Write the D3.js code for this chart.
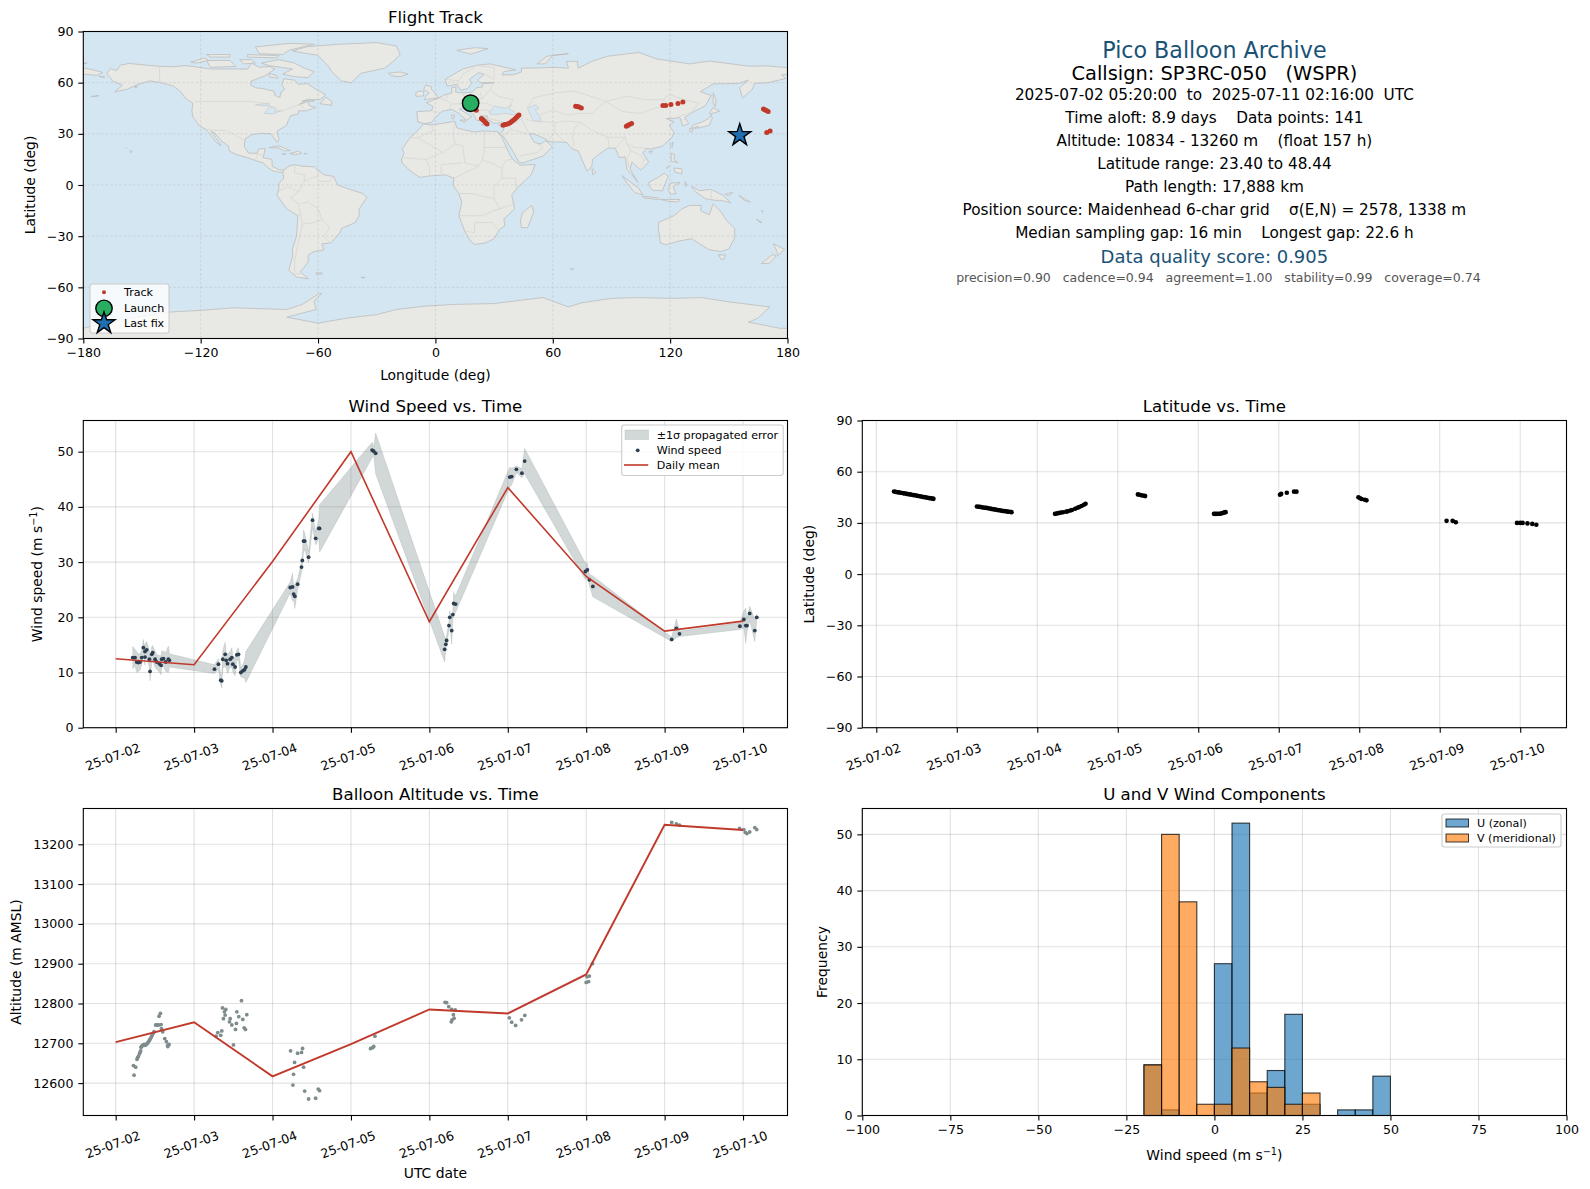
<!DOCTYPE html>
<html>
<head>
<meta charset="utf-8">
<script src="https://cdn.jsdelivr.net/npm/d3@7"></script>
<style>
  html, body { margin: 0; padding: 0; background: #fff; }
  svg { display: block; }
  text { font-family: "DejaVu Sans", sans-serif; fill: #000; }
</style>
</head>
<body>
<div id="chart"></div>
<script>
// ---- tick labels and info text
const lonTicks = [-180, -120, -60, 0, 60, 120, 180];
const latTicks = [-90, -60, -30, 0, 30, 60, 90];
const dayTicks = [0, 1, 2, 3, 4, 5, 6, 7, 8];
const windTicks = [0, 10, 20, 30, 40, 50];
const altTicks = [12600, 12700, 12800, 12900, 13000, 13100, 13200];
const histXTicks = [-100, -75, -50, -25, 0, 25, 50, 75, 100];
const histYTicks = [0, 10, 20, 30, 40, 50];

const infoLines = [
  'Pico Balloon Archive',
  'Callsign: SP3RC-050   (WSPR)',
  '2025-07-02 05:20:00  to  2025-07-11 02:16:00  UTC',
  'Time aloft: 8.9 days    Data points: 141',
  'Altitude: 10834 - 13260 m    (float 157 h)',
  'Latitude range: 23.40 to 48.44',
  'Path length: 17,888 km',
  'Position source: Maidenhead 6-char grid    σ(E,N) = 2578, 1338 m',
  'Median sampling gap: 16 min    Longest gap: 22.6 h',
  'Data quality score: 0.905',
  'precision=0.90   cadence=0.94   agreement=1.00   stability=0.99   coverage=0.74'
];

// ---- flight data. days are counted from 2025-07-02 00:00 UTC
const launchPos = [18, 48];
const lastFixPos = [155.6, 29.2];
const trackPos = [
  [19.5,46],[20.2,45],[20.9,43.9],[23.5,39],[24,38.5],[24.6,38],[25.2,37.2],[25.8,36.5],[26.4,35.7],
  [34.6,35.1],[35.5,35.4],[36.4,35.6],[37.4,36],[38.2,36.5],[39,37.2],[39.8,37.9],[40.6,38.7],[41.4,39.6],[42,40.3],[42.7,41],
  [71.7,46.2],[72.6,46],[73.4,45.8],[74.6,45.1],
  [97.6,34.5],[98.3,34.9],[99.2,35.4],[100.3,36.1],
  [116.3,46.6],[117.7,46.6],[120.4,47.2],[124,47.8],[126.5,48.6],
  [167.7,44.5],[168.4,44.1],[169.2,43.7],[170.1,43.1],
  [169.4,30.8],[171.1,31.6]
];

// [day, speed, sigma]
const windPoints = [
  [.217,12.7,2],[.247,12.7,1.5],[.268,11.9,1.9],[.289,11.8,1.6],[.311,11.9,1.5],[.332,12.7,1.3],[.353,14.5,1.5],
  [.374,12.8,1.5],[.374,13.8,1.3],[.396,14.1,1.5],[.43,12.4,1.5],[.438,10.2,1.7],[.46,13.3,1.4],[.472,13.6,1.3],
  [.502,12.4,1.5],[.523,11.9,1.3],[.557,11.6,1.5],[.579,11.3,1.7],[.587,12.4,1.5],[.609,12.5,1.4],[.638,11.9,1.7],
  [.672,12.4,2.4],[.685,12.2,1.2],
  [1.26,10.6,.8],[1.31,11.5,1],[1.34,8.6,.9],[1.353,8.5,1.3],[1.366,12.4,1.6],[1.396,13.3,2.2],[1.409,12.2,1.4],
  [1.426,11.6,1.8],[1.46,12.4,1.4],[1.481,12.7,1.8],[1.494,11.5,1.4],[1.523,11,1.6],[1.545,13.2,.9],[1.566,13.3,1.2],
  [1.596,10,.8],[1.621,10.3,1.2],[1.643,10.5,1.6],[1.66,11,2.8],
  [2.226,25.4,1],[2.255,25.5,2.5],[2.27,24.2,1.2],[2.285,23.8,2.2],[2.32,26,1],[2.37,29.1,1],[2.38,30.3,1],
  [2.395,33.8,2],[2.41,33.8,1.5],[2.46,30.9,1],[2.51,37.6,1.3],[2.55,34.3,1.2],[2.59,36.1,1.8],[2.60,36.1,4.3],
  [3.27,50.3,1.4],[3.29,50.1,.8],[3.315,49.7,3.7],
  [4.195,14.2,2.3],[4.21,15.1,1],[4.22,15.8,.8],[4.25,18.5,.8],[4.26,20,1.2],[4.285,17.6,2.5],[4.30,20.5,.8],
  [4.31,22.5,2],[4.335,22.4,1.5],
  [5.025,45.4,1.8],[5.05,45.5,1.5],[5.11,46.8,.6],[5.18,46.1,.8],[5.215,48.3,2.3],
  [5.99,28.3,1.5],[6.015,28.6,1.2],[6.04,26.8,1],[6.085,25.6,1.9],
  [7.09,16,.4],[7.15,18,1.7],[7.19,17,.5],
  [7.96,18.4,.6],[8.01,19.6,1.5],[8.035,18.5,3.2],[8.05,18.5,1.2],[8.085,20.7,1.3],[8.15,17.6,2],[8.175,20,.5]
];
const windMeanDays = [0, 1, 2, 3, 4, 5, 6, 7, 8];
const windMean = [12.5, 11.4, 30.1, 50, 19.2, 43.5, 27.4, 17.5, 19.3];

const latPoints = [
  [.22,48.4],[.24,48.2],[.26,48],[.28,47.9],[.3,47.7],[.32,47.5],[.34,47.3],[.36,47.2],[.38,47],[.4,46.8],[.42,46.7],
  [.44,46.5],[.46,46.3],[.48,46.2],[.5,46],[.52,45.8],[.54,45.6],[.56,45.4],[.58,45.2],[.6,45.1],[.62,44.9],[.64,44.7],
  [.66,44.5],[.68,44.4],[.7,44.2],[.71,44.1],
  [1.25,39.6],[1.27,39.5],[1.29,39.4],[1.31,39.2],[1.33,39],[1.35,38.9],[1.37,38.8],[1.39,38.6],[1.41,38.4],[1.43,38.2],
  [1.45,38],[1.47,37.9],[1.49,37.7],[1.51,37.5],[1.53,37.4],[1.55,37.2],[1.57,37],[1.59,36.9],[1.61,36.8],[1.63,36.6],
  [1.65,36.5],[1.67,36.4],[1.68,36.3],
  [2.22,35.3],[2.24,35.5],[2.26,35.7],[2.29,36],[2.32,36.2],[2.36,36.6],[2.38,36.8],[2.41,37.3],[2.43,37.6],[2.47,38.3],
  [2.5,38.9],[2.52,39.3],[2.55,39.9],[2.58,40.6],[2.6,41.2],
  [3.25,46.7],[3.27,46.5],[3.3,46.1],[3.33,45.9],[3.34,45.7],
  [4.195,35.3],[4.21,35.3],[4.23,35.3],[4.25,35.4],[4.27,35.4],[4.29,35.6],[4.31,35.9],[4.33,36.2],[4.34,36.3],
  [5.015,46.5],[5.03,47],[5.1,47.7],[5.19,48.3],[5.22,48.3],
  [5.99,45],[6.01,44.4],[6.03,44],[6.07,43.6],[6.09,43.2],
  [7.085,31.2],[7.16,31.2],[7.2,30.4],
  [7.96,30],[8,30],[8.03,30],[8.09,29.7],[8.15,29.4],[8.2,28.9]
];

const altPoints = [
  [.234,12620],[.226,12644],[.255,12640],[.272,12660],[.28,12664],[.289,12667],[.302,12673],[.31,12677],[.319,12681],
  [.323,12690],[.33,12692],[.34,12694],[.35,12696],[.362,12697],[.372,12695],[.383,12696],[.394,12698],[.404,12700],
  [.415,12703],[.426,12706],[.435,12709],[.443,12712],[.455,12716],[.464,12720],[.478,12725],[.489,12729],[.51,12746],
  [.53,12746],[.545,12746],[.579,12747],[.553,12768],[.57,12775],[.583,12737],[.6,12729],[.626,12712],[.647,12704],
  [.664,12695],[.681,12697],[.664,12692],
  [1.28,12718],[1.302,12727],[1.34,12720],[1.353,12731],[1.362,12789],[1.387,12779],[1.404,12785],[1.374,12762],
  [1.396,12771],[1.46,12762],[1.451,12754],[1.481,12746],[1.502,12696],[1.528,12735],[1.54,12750],[1.545,12779],
  [1.57,12767],[1.604,12807],[1.621,12760],[1.638,12739],[1.655,12735],[1.672,12772],
  [2.23,12681],[2.281,12652],[2.268,12622],[2.26,12595],[2.32,12675],[2.37,12677],[2.383,12687],[2.396,12640],
  [2.41,12580],[2.46,12560],[2.55,12562],[2.583,12585],[2.6,12581],
  [3.306,12718],[3.25,12687],[3.277,12689],[3.29,12692],
  [4.2,12803],[4.22,12802],[4.247,12792],[4.285,12785],[4.33,12784],[4.306,12772],[4.315,12763],[4.29,12759],[4.28,12754],
  [5.02,12764],[5.05,12753],[5.1,12745],[5.175,12759],[5.217,12770],
  [6.08,12900],[6.01,12867],[6.04,12869],[6,12853],[6.03,12855],
  [7.09,13255],[7.15,13251],[7.19,13248],
  [7.957,13240],[8.01,13237],[8.03,13230],[8.05,13227],[8.085,13231],[8.15,13242],[8.175,13237]
];
const altMean = [12703, 12753, 12617, 12698, 12785, 12775, 12873, 13249, 13236];

// histogram: 5 m/s bins starting at binStart
const binStart = [-20,-15,-10,-5,0,5,10,15,20,25,30,35,40,45];
const uCounts = [9,1,0,0,27,52,4,8,18,2,0,1,1,7];
const vCounts = [9,50,38,2,2,12,6,5,2,4,0,0,0,0];

// ---- map outlines, lon/lat estimated by eye
const landPolys = [
  // north america
  [[-168,65.5],[-166,68.3],[-163,67],[-161,70.3],[-156.5,71.3],[-150,70.5],[-141,69.6],[-135,69.3],[-128,70],[-124,69.5],[-115,68],[-108,68],[-100,68],[-96,68],[-94,71.5],[-90,69],[-85,69.5],[-82,68],[-87,64],[-94,61],[-94.5,58.7],[-92,57],[-88,56.5],[-82.5,55],[-82,52.5],[-79.5,51.3],[-79,54.5],[-77,56],[-78.5,58.5],[-77.5,62.3],[-72,61.5],[-70,59],[-65.5,59.5],[-61,56],[-56,53],[-59,50],[-66,50],[-70,47],[-65,49],[-64.5,46.5],[-61,45.5],[-66,43.5],[-70,43.5],[-70,41.7],[-74,40.6],[-75.5,37],[-76,35],[-81,31.5],[-80,26.5],[-81,25],[-82.8,28],[-84,30],[-89,30.3],[-94,29.5],[-97.3,27],[-97.7,22.5],[-95.5,18.7],[-91,18.6],[-90.5,21],[-87,21.5],[-88,16],[-83.5,15],[-83.5,11],[-80,9],[-77.5,8.7],[-78,7.3],[-80,7.5],[-83,8.2],[-86,10.5],[-88,13],[-92,14.3],[-96,16],[-102,18],[-105.5,20],[-105.5,22.5],[-109.5,26],[-112.8,30.5],[-114.7,31.5],[-112,27],[-109.5,23],[-112,25],[-115,29.5],[-117.2,32.5],[-120.5,34.5],[-124,40],[-124.5,43.5],[-124,48],[-128,51],[-130,54.5],[-134,58],[-140,60],[-146,61],[-152,59],[-158,56],[-164,54.6],[-160,58.5],[-165,61]],
  // greenland
  [[-73,78.5],[-66,81],[-50,82.5],[-30,83.5],[-20,81.5],[-18,76.5],[-22,72],[-26,68.5],[-38,65.5],[-43,60],[-48,61],[-53,66.5],[-55,70],[-60,76]],
  // canadian islands
  [[-80,73.5],[-72,71.5],[-68,69],[-62,66.5],[-65,63],[-72,63.5],[-78,65],[-73,68],[-85,70],[-89,71.5]],
  [[-117,73],[-105,73],[-102,69.5],[-115,69]],
  [[-90,77],[-78,76.5],[-75,79],[-62,82.5],[-75,83],[-92,81]],
  [[-125,72],[-118,74.5],[-116,73],[-122,71.5]],
  [[-96,75],[-81,74.5],[-80,75.8],[-96,76.5]],
  [[-115,75],[-105,75],[-105,76.5],[-117,76.5]],
  [[-100,73.5],[-94,73.5],[-92,71.5],[-98,71]],
  [[-59,47.7],[-53,46.7],[-53,49],[-56,51.5]],
  [[-85,65.5],[-81,64],[-80.5,62.5],[-85,63.5]],
  [[-68,49.3],[-64,49.9],[-62,49.3],[-64,49]],
  // caribbean, hawaii, alaska islands
  [[-85,21.9],[-80,23],[-74.2,20.2],[-77.5,19.9],[-80,21.7]],
  [[-74.4,18.4],[-70,19.8],[-68.4,18.5],[-71.5,17.8]],
  [[-78.3,18.4],[-76.3,18.2],[-77,17.8]],
  [[-67.2,18.5],[-65.7,18.4],[-66,18]],
  [[-156,19],[-155,19.7],[-156,20.2]],
  [[-158.2,21.6],[-157.7,21.6],[-158,21.3]],
  [[-176,51.9],[-172,52.4],[-174,52]],
  [[-154,57.5],[-152.3,58],[-153,57]],
  [[-172,63.7],[-169,63.4],[-170,63.1]],
  // south america
  [[-77.5,8.7],[-75,11],[-72,12],[-68,11],[-62,10.7],[-57,6],[-52,5],[-50,0],[-44,-2.5],[-37,-5],[-35,-7.5],[-39,-14],[-39,-18],[-41,-22],[-48,-25.5],[-48.7,-28],[-53.5,-34],[-58,-34.5],[-57,-38],[-62,-39],[-65,-41],[-65,-45],[-69,-51],[-65,-55],[-71,-54],[-75,-50],[-73,-42],[-73,-37],[-71,-30],[-70.3,-18],[-76,-14],[-81,-6],[-80,-2],[-80,1],[-77.5,4],[-78,7.3]],
  [[-61,-51.5],[-58,-51.5],[-58,-52.3],[-61,-52.3]],
  // africa
  [[-6,35.8],[-2,35.2],[10,37.3],[11,33.5],[15,32.3],[20,31],[25,31.7],[32,31.2],[34,28],[35.5,24],[37.5,19],[39.5,15],[43.2,11.6],[51,12],[49,6],[42,-1.5],[39,-6],[40.5,-14],[35,-20],[35.5,-24],[32.8,-26],[30,-31.5],[25.5,-34],[20,-34.8],[18,-33],[15,-27],[12,-18],[13.5,-10],[12,-5],[9,0],[9.5,4],[5,6],[-4,5.2],[-8,4.4],[-13,8.5],[-16.8,12.5],[-17.4,14.7],[-16,19],[-17,21],[-13,27.7],[-9.8,31]],
  [[49.3,-12],[50.3,-15.8],[47.2,-25],[44,-25],[43.5,-21],[44.5,-16.2]],
  // eurasia
  [[-5.5,36],[-9,37],[-9.5,43],[-2,43.5],[-1.2,46],[-4.7,48.3],[1.5,50.8],[5,53],[8.5,54],[8.2,57],[10.6,57.6],[10.3,54.5],[14,54],[19,54.5],[21,57],[24,57.5],[24,59.3],[30,60],[23,60],[21.5,61.5],[25,65],[22,65.8],[17.5,62],[18.5,59.5],[16.5,56.5],[13,55.5],[11,59],[6,58],[5,62],[14,68],[21,70.2],[28,71],[41,67.5],[35,66.5],[34,64.5],[40,64.7],[44,66.3],[44,68.5],[54,68.7],[60,69],[68,68.5],[67,72.5],[72.5,72.5],[73,68.5],[80,72.5],[88,75.5],[104,77.7],[113,74],[130,71],[140,72.7],[160,69.7],[170,69.8],[180,68.8],[180,65],[177,64.5],[179,62.4],[170,60],[163,59.5],[162,56],[157,51],[155.5,57],[160,61.5],[155,59.5],[142,59.3],[135.5,54.7],[141,52.5],[138,46.5],[132,43],[127.5,39.8],[129.5,36],[126.5,34.5],[125,39.5],[121.5,39],[118,39],[122,37],[119.5,35],[122,31],[121,28],[116,22.7],[110,21],[108,21.5],[106,19],[109,13.5],[105,8.7],[100.5,13.5],[99.5,9.5],[103.5,1.5],[100.5,6],[98,9],[97,16.5],[94,16],[92,21.5],[88.5,21.7],[86,20],[80.3,15],[80,11],[77.5,8],[73,20],[70,21],[67,25],[57,25.5],[56.5,27],[50,30],[48,30],[50.5,25],[54,24],[56.3,26],[59.8,22.5],[55,17],[45,13],[43,13],[39,21],[34.8,28.5],[32.5,30],[34.5,31.5],[36,36.5],[30,36.2],[26.5,38.5],[26.5,40.5],[23,40.5],[23.5,37.7],[21,38],[19.5,41.5],[14,45],[12.3,44.5],[18.5,40],[16,38],[12,42],[8.5,44.3],[3.5,43.3],[0,39.5],[-2,36.7]],
  // eastern tip of siberia past the dateline
  [[-180,68.8],[-175,67.5],[-170,66],[-173,64.3],[-180,65]],
  [[-180,71],[-178,71.5],[-180,71.5]],
  // european and asian islands
  [[-5.5,50],[1.5,51.2],[0,53.5],[-2,56],[-2,57.6],[-5,58.6],[-6,56],[-3,54],[-5,52]],
  [[-10,52],[-6,52.2],[-6,55],[-8.5,55],[-10,54]],
  [[-24,65.5],[-18,66.3],[-14,65],[-18,63.5],[-22.5,64]],
  [[11,79],[20,80.5],[27,80],[18,76.7]],
  [[52,71],[56,71],[60,76],[68,77],[57,75.5]],
  [[12.5,38],[15.5,38.2],[15,36.7]],
  [[8.3,41],[9.7,41],[9.5,39],[8.5,39]],
  [[23.5,35.5],[26.3,35.3],[24,35]],
  [[32.3,35],[34.5,35.6],[33.5,34.6]],
  [[142,54],[143.5,50],[143,46],[142,48]],
  [[130.8,33.5],[135,33.5],[140,35],[141.5,39],[141,41.3],[139.8,39],[136.5,37],[132,35.3]],
  [[140,42],[142,45.4],[145.3,43.3],[141,41.8]],
  [[130,33],[131.8,33],[131,31],[130,31.5]],
  [[132.5,34],[134.5,34.2],[133,33]],
  [[120,23],[121.5,25.2],[121,22]],
  [[109,19.5],[111,20],[110,18.3]],
  [[80,9.7],[82,7.5],[80.5,6]],
  [[120.5,18.5],[122.2,18],[122,15],[124,13],[120.6,14]],
  [[122,10],[126,9.5],[126,6.5],[122.5,7.5]],
  [[118,10],[119.5,11.3],[118.5,9.5]],
  [[95.3,5.5],[104,-2],[106,-5.8],[102,-4.5],[98,1]],
  [[105.5,-6.5],[114.5,-7.7],[114,-8.6],[106.5,-7.5]],
  [[109,1.5],[114,4.5],[117,7],[119,5],[117.5,1],[116,-3.5],[111,-3],[109.5,-1]],
  [[120,1],[125,1.5],[121.5,-1],[123,-5],[120.5,-5.5],[119,-3]],
  [[115,-8.5],[120,-8.5],[125,-8.5],[124,-10],[119,-9.5]],
  [[127.5,2],[128.5,0.5],[128,-1]],
  [[131,-0.8],[135,-3.3],[141,-2.6],[147,-6],[151,-10.5],[146,-9],[143,-9],[138,-8],[133,-4]],
  [[148,-5.5],[152,-4.3],[150,-6.3]],
  [[155,-6],[161,-10],[158,-9]],
  [[166.5,-15],[167.5,-16],[167,-15]],
  [[164,-20],[167,-22],[166,-22]],
  // australia and nz
  [[114,-22],[122,-18],[126,-14],[130,-12],[136,-12],[135.5,-15],[140,-17.5],[142,-11],[145.5,-15],[149,-21],[153,-25.5],[153,-31],[150,-37.5],[146,-39],[140,-38],[135,-34.5],[131,-31.5],[124,-33],[118,-35],[115,-34],[114,-26]],
  [[144.7,-41],[148.3,-41],[147.5,-43.5],[146,-43.5]],
  [[172.7,-34.5],[178.5,-37.7],[175,-41.5],[174.5,-38.5]],
  [[172.5,-40.7],[174.3,-41.7],[170.5,-46],[166.5,-46],[170,-43]],
  // small southern ocean islands
  [[69,-49],[70.5,-49.2],[69.5,-49.8]],
  [[-38,-54],[-36,-54.2],[-37,-54.6]],
  // antarctica
  [[-180,-90],[-180,-84],[-165,-80],[-150,-77],[-136,-74.5],[-120,-73.5],[-103,-72],[-90,-72.5],[-76,-73],[-68,-70],[-60,-64],[-58,-63.5],[-62,-68],[-61,-73],[-76,-77.5],[-60,-81],[-45,-78],[-30,-76],[-20,-73],[-5,-71],[10,-70],[30,-69.5],[55,-66],[68,-71.5],[75,-69],[90,-66.5],[103,-66],[120,-66.5],[136,-66],[150,-68.5],[171,-71.5],[165,-78],[160,-80.4],[176,-84],[180,-84],[180,-90]]
];
const lakePolys = [
  [[28,41.5],[28,43.5],[30.5,46.3],[33,45.5],[36,45],[39,47],[37.5,45],[41.5,42],[41,41],[35,42],[31,41.2]],
  [[47,45],[51,47],[53,45],[51,44],[53.5,40],[54,37],[50,37.5],[49,40.5]],
  [[-92,47],[-85,48],[-84.7,46.5],[-88,46.5]],
  [[-87.5,42],[-85,45.7],[-82,45.5],[-82,43],[-79,43.5],[-83,41.7]]
];
const borderLines = [
  [[-123,49],[-95,49],[-88,48],[-82,45],[-79,43],[-75,45],[-69,47.2],[-67,45]],
  [[-141,69.6],[-141,60],[-134,58]],
  [[-117,32.5],[-106.5,31.8],[-97.5,26]],
  [[-92,14.5],[-91,18],[-89,18],[-88.5,16]],
  [[-72,12],[-72,7],[-67,6],[-67,2],[-70,-4],[-74,-7.5],[-70,-11],[-69,-17],[-70.3,-18]],
  [[-60,8.5],[-60,5],[-64,4],[-67,2]],
  [[-52,5],[-54,2.3],[-60,2]],
  [[-80,-3.3],[-75,-1],[-70,-4]],
  [[-69,-11],[-65,-10],[-60,-14],[-58,-20],[-54,-25],[-57,-30],[-53.5,-34]],
  [[-69,-17],[-68,-23],[-62,-22],[-58,-20]],
  [[-68,-23],[-70,-33],[-72,-45],[-72,-52],[-69,-52]],
  [[-2,35],[-1,32],[-9,27.7],[-13,27.7]],
  [[10,37],[9,30],[10,24],[4,19],[-5,25],[-9,27.7]],
  [[25,31.7],[25,20],[24,15],[22,11],[15,13],[14,23],[10,24]],
  [[25,22],[37,22]],
  [[24,15],[34,10],[36,14.5],[39.5,15]],
  [[34,10],[34,4],[41,4],[41,-1.5]],
  [[-16.5,16],[-5,15],[4,19]],
  [[-5,15],[-3,10],[-3,5]],
  [[3,6],[3,12],[14,13]],
  [[9.5,4],[15,7],[22,11]],
  [[12,-5],[18,-5],[30,-8],[30,-1],[34,4]],
  [[12,-18],[24,-18],[30,-15],[40.5,-11]],
  [[15,-27],[20,-28],[20,-22],[29,-22],[32,-26]],
  [[30,-8],[33,-14],[30,-15]],
  [[-1.5,43],[3,42.5]],[[2,51],[6,49.5],[8,47.5],[7,44]],[[6,51],[6.5,53.5]],
  [[14,54],[15,51],[12,47.5],[8,47.5]],[[15,51],[24,50.5],[23,54]],
  [[12,47.5],[17,48],[22,48],[26,48],[30,46]],[[14,45.5],[19,46],[22,44],[23,41]],
  [[28,41.5],[27,44],[22,44]],
  [[30,60],[28,56],[24,50.5]],[[28,56],[32,52],[40,50],[38,47]],
  [[26,39.5],[36,36.5],[42,37],[44.5,39.5],[41.5,42]],[[36,36.5],[39,32.5],[47,30]],
  [[35,29.5],[39,32.5]],[[44,39],[46,34],[48,30]],[[46,38.5],[48,38],[61,36.5],[61,31],[57,25.5]],
  [[61,31],[66,25.5]],[[61,36.5],[66,37.5],[74,37],[71,33],[70,28],[71,24],[70,21]],
  [[43,17],[52,19],[55,22],[51,25]],
  [[47,45],[50,51],[61,54],[71,55],[77,53],[87,49]],[[53.5,41],[60,44],[67,41],[74,42],[80,42],[87,49]],
  [[87,49],[98,52],[107,50],[116,50],[120,53],[127,50],[135,48],[131,43]],
  [[87,49],[96,43],[105,42],[112,45],[120,47],[116,50]],
  [[74,37],[80,32],[88,28],[97,28],[98,24],[102,22],[108,21.5]],
  [[88,28],[89,22]],[[97,28],[94,24],[92,21.5]],[[98,24],[100,20],[104,18],[107,15],[105,11]],
  [[100,20],[98,16],[99,10]],
  [[124,40],[130,42.5]],[[124.5,38],[128.5,38.5]],
  [[141,-2.6],[141,-9]],[[5.5,62],[12,61],[14,65],[20,69]],[[25,65],[30,62],[30,69],[21,70]]
];

// ---- layout
const width = 1590, height = 1189;
const leftCol = [83.3, 787.5], rightCol = [862.3, 1566.5];
const row1 = [31.5, 338.5], row2 = [420.5, 727.7], row3 = [808.5, 1115.5];
const tickSize = 12.6, labelSize = 13.9, titleSize = 16.6, legendSize = 11.1;
const red = '#c0392b', navy = '#2c3e50', slate = '#7f8c8d', titleBlue = '#1a5276';

const svg = d3.select('#chart').append('svg').attr('width', width).attr('height', height);
const dayToDate = d => new Date(Date.UTC(2025, 6, 2) + d * 864e5);

function gridLines(g, xs, ys, x, y, dashed) {
  const gr = g.append('g').attr('stroke', '#b0b0b0').attr('stroke-width', dashed ? .8 : 1.1)
    .attr('stroke-opacity', dashed ? .45 : .38).attr('stroke-dasharray', dashed ? '2.5,2' : null);
  gr.selectAll('.v').data(xs).enter().append('line')
    .attr('x1', x).attr('x2', x).attr('y1', y.range()[0]).attr('y2', y.range()[1]);
  gr.selectAll('.h').data(ys).enter().append('line')
    .attr('x1', x.range()[0]).attr('x2', x.range()[1]).attr('y1', y).attr('y2', y);
}

function axesFrame(x, y, xAxis, yAxis, rotated) {
  const g = svg.append('g');
  const gx = g.append('g').attr('transform', `translate(0,${y.range()[0]})`)
    .call(xAxis.tickSize(5).tickSizeOuter(0).tickPadding(4.9));
  g.append('g').attr('transform', `translate(${x.range()[0]},0)`)
    .call(yAxis.tickSize(5).tickSizeOuter(0).tickPadding(4.9));
  g.selectAll('.domain').remove();
  g.selectAll('.tick line').attr('stroke', '#000').attr('stroke-width', 1.1);
  g.selectAll('.tick text').attr('font-size', tickSize).attr('font-family', '"DejaVu Sans"').attr('fill', '#000');
  if (rotated) {
    gx.selectAll('.tick text').attr('text-anchor', 'middle').attr('dy', 0).attr('y', 0)
      .attr('transform', 'translate(-3,30) rotate(-20)').attr('dominant-baseline', 'middle');
  }
  g.append('rect').attr('x', x.range()[0]).attr('y', y.range()[1])
    .attr('width', x.range()[1] - x.range()[0]).attr('height', y.range()[0] - y.range()[1])
    .attr('fill', 'none').attr('stroke', '#000').attr('stroke-width', 1.1);
}

// label is a plain string, or [before, superscript, after]
function fillLabel(el, label) {
  if (Array.isArray(label)) {
    el.append('tspan').text(label[0]);
    el.append('tspan').attr('font-size', labelSize * .7).attr('dy', -5).text(label[1]);
    el.append('tspan').attr('font-size', labelSize).attr('dy', 5).text(label[2]);
  } else el.text(label);
}

function titleAndLabels(x, y, title, xLabel, yLabel, xLabelY, yLabelX) {
  const cx = (x.range()[0] + x.range()[1]) / 2, cy = (y.range()[0] + y.range()[1]) / 2;
  svg.append('text').attr('x', cx).attr('y', y.range()[1] - 8.5).attr('text-anchor', 'middle')
    .attr('font-size', titleSize).text(title);
  if (xLabel) fillLabel(svg.append('text').attr('x', cx).attr('y', xLabelY).attr('text-anchor', 'middle')
    .attr('font-size', labelSize), xLabel);
  fillLabel(svg.append('text').attr('transform', `translate(${yLabelX},${cy}) rotate(-90)`)
    .attr('text-anchor', 'middle').attr('font-size', labelSize), yLabel);
}

function legendBox(x, y, w, h) {
  svg.append('rect').attr('x', x).attr('y', y).attr('width', w).attr('height', h).attr('rx', 2.5)
    .attr('fill', '#fff').attr('fill-opacity', .8).attr('stroke', '#ccc').attr('stroke-width', 1.1);
}
function legendText(x, y, label) {
  svg.append('text').attr('x', x).attr('y', y).attr('font-size', legendSize)
    .attr('dominant-baseline', 'middle').text(label);
}
const wspeed = ['Wind speed (m s', '−1', ')'];

// ---- map
{
  const x = d3.scaleLinear().domain([-180, 180]).range(leftCol);
  const y = d3.scaleLinear().domain([-90, 90]).range([row1[1], row1[0]]);
  const clipId = 'mapclip';
  svg.append('clipPath').attr('id', clipId).append('rect')
    .attr('x', leftCol[0]).attr('y', row1[0]).attr('width', leftCol[1] - leftCol[0]).attr('height', row1[1] - row1[0]);
  const g = svg.append('g').attr('clip-path', `url(#${clipId})`);
  g.append('rect').attr('x', leftCol[0]).attr('y', row1[0]).attr('width', leftCol[1] - leftCol[0])
    .attr('height', row1[1] - row1[0]).attr('fill', '#d4e6f1');
  const line = d3.line().x(d => x(d[0])).y(d => y(d[1]));
  g.selectAll('.land').data(landPolys).enter().append('path')
    .attr('d', d => line(d) + 'Z').attr('fill', '#e8e8e4').attr('stroke', '#bdbdbd').attr('stroke-width', .8);
  g.selectAll('.lake').data(lakePolys).enter().append('path')
    .attr('d', d => line(d) + 'Z').attr('fill', '#d4e6f1').attr('stroke', '#c4c8ca').attr('stroke-width', .6);
  g.selectAll('.border').data(borderLines).enter().append('path')
    .attr('d', line).attr('fill', 'none').attr('stroke', '#d4d4d0').attr('stroke-width', .7);
  gridLines(g, lonTicks, latTicks, x, y, true);
  g.selectAll('.track').data(trackPos).enter().append('circle')
    .attr('cx', d => x(d[0])).attr('cy', d => y(d[1])).attr('r', 2.5).attr('fill', red);
  g.append('circle').attr('cx', x(launchPos[0])).attr('cy', y(launchPos[1])).attr('r', 8.2)
    .attr('fill', '#27ae60').attr('stroke', '#000').attr('stroke-width', 1.4);
  const star = d3.symbol().type(d3.symbolStar).size(150);
  g.append('path').attr('d', star()).attr('transform', `translate(${x(lastFixPos[0])},${y(lastFixPos[1])})`)
    .attr('fill', '#1f6fb0').attr('stroke', '#000').attr('stroke-width', 1.4);

  axesFrame(x, y, d3.axisBottom(x).tickValues(lonTicks), d3.axisLeft(y).tickValues(latTicks));
  titleAndLabels(x, y, 'Flight Track', 'Longitude (deg)', 'Latitude (deg)', 380, 35);

  legendBox(90, 284, 79, 49);
  svg.append('circle').attr('cx', 104).attr('cy', 292.3).attr('r', 2).attr('fill', red);
  svg.append('circle').attr('cx', 104).attr('cy', 308.3).attr('r', 8.2)
    .attr('fill', '#27ae60').attr('stroke', '#000').attr('stroke-width', 1.4);
  svg.append('path').attr('d', star()).attr('transform', 'translate(104,323.3)')
    .attr('fill', '#1f6fb0').attr('stroke', '#000').attr('stroke-width', 1.4);
  legendText(124, 292.5, 'Track');
  legendText(124, 308.5, 'Launch');
  legendText(124, 323.5, 'Last fix');
}

// ---- info text
{
  const cx = (rightCol[0] + rightCol[1]) / 2;
  const ys = [51, 74, 95, 118, 141, 164, 187, 210, 233, 258, 278];
  const sizes = [22.2, 19.4, 15.28, 15.28, 15.28, 15.28, 15.28, 15.28, 15.28, 18, 12.5];
  const fills = [titleBlue, '#000', '#000', '#000', '#000', '#000', '#000', '#000', '#000', titleBlue, '#555'];
  svg.selectAll('.info').data(infoLines).enter().append('text')
    .attr('x', (d, i) => i === 10 ? cx + 4 : cx).attr('y', (d, i) => ys[i]).attr('text-anchor', 'middle')
    .attr('dominant-baseline', 'middle').attr('font-size', (d, i) => sizes[i])
    .attr('xml:space', 'preserve').style('white-space', 'pre')
    .style('fill', (d, i) => fills[i]).text(d => d);
}

// ---- wind speed
{
  const x = d3.scaleUtc().domain([dayToDate(-.413), dayToDate(8.567)]).range(leftCol);
  const y = d3.scaleLinear().domain([0, 55.65]).range([row2[1], row2[0]]);
  const g = svg.append('g');
  gridLines(g, dayTicks.map(dayToDate), windTicks, x, y);
  const area = d3.area().x(d => x(dayToDate(d[0]))).y0(d => y(d[1] - d[2])).y1(d => y(d[1] + d[2]));
  g.append('path').attr('d', area(windPoints)).attr('fill', slate).attr('fill-opacity', .35)
    .attr('stroke', slate).attr('stroke-opacity', .2);
  g.selectAll('.pt').data(windPoints).enter().append('circle')
    .attr('cx', d => x(dayToDate(d[0]))).attr('cy', d => y(d[1])).attr('r', 1.9).attr('fill', navy);
  const line = d3.line().x((d, i) => x(dayToDate(windMeanDays[i]))).y(d => y(d));
  g.append('path').attr('d', line(windMean)).attr('fill', 'none').attr('stroke', red).attr('stroke-width', 1.6);
  axesFrame(x, y, d3.axisBottom(x).tickValues(dayTicks.map(dayToDate)).tickFormat(d3.utcFormat('%y-%m-%d')),
    d3.axisLeft(y).tickValues(windTicks), true);
  titleAndLabels(x, y, 'Wind Speed vs. Time', null, wspeed, 0, 42);

  legendBox(621.7, 425, 161.5, 50.5);
  svg.append('rect').attr('x', 625).attr('y', 430).attr('width', 23.5).attr('height', 9.5)
    .attr('fill', slate).attr('fill-opacity', .35).attr('stroke', slate).attr('stroke-opacity', .2);
  svg.append('circle').attr('cx', 637.7).attr('cy', 450.3).attr('r', 1.9).attr('fill', navy);
  svg.append('line').attr('x1', 624).attr('x2', 648.3).attr('y1', 465).attr('y2', 465)
    .attr('stroke', red).attr('stroke-width', 1.6);
  legendText(656.7, 435.5, '±1σ propagated error');
  legendText(656.7, 450.5, 'Wind speed');
  legendText(656.7, 466, 'Daily mean');
}

// ---- latitude
{
  const x = d3.scaleUtc().domain([dayToDate(-.174), dayToDate(8.575)]).range(rightCol);
  const y = d3.scaleLinear().domain([-90, 90]).range([row2[1], row2[0]]);
  const g = svg.append('g');
  gridLines(g, dayTicks.map(dayToDate), latTicks, x, y);
  g.selectAll('.pt').data(latPoints).enter().append('circle')
    .attr('cx', d => x(dayToDate(d[0]))).attr('cy', d => y(d[1])).attr('r', 2.3).attr('fill', '#000');
  axesFrame(x, y, d3.axisBottom(x).tickValues(dayTicks.map(dayToDate)).tickFormat(d3.utcFormat('%y-%m-%d')),
    d3.axisLeft(y).tickValues(latTicks), true);
  titleAndLabels(x, y, 'Latitude vs. Time', null, 'Latitude (deg)', 0, 814);
}

// ---- altitude
{
  const x = d3.scaleUtc().domain([dayToDate(-.413), dayToDate(8.567)]).range(leftCol);
  const y = d3.scaleLinear().domain([12518.6, 13290]).range([row3[1], row3[0]]);
  const g = svg.append('g');
  gridLines(g, dayTicks.map(dayToDate), altTicks, x, y);
  g.selectAll('.pt').data(altPoints).enter().append('circle')
    .attr('cx', d => x(dayToDate(d[0]))).attr('cy', d => y(d[1])).attr('r', 1.9).attr('fill', slate);
  const line = d3.line().x((d, i) => x(dayToDate(windMeanDays[i]))).y(d => y(d));
  g.append('path').attr('d', line(altMean)).attr('fill', 'none').attr('stroke', red).attr('stroke-width', 1.9);
  axesFrame(x, y, d3.axisBottom(x).tickValues(dayTicks.map(dayToDate)).tickFormat(d3.utcFormat('%y-%m-%d')),
    d3.axisLeft(y).tickFormat(d3.format('d')).tickValues(altTicks), true);
  titleAndLabels(x, y, 'Balloon Altitude vs. Time', 'UTC date', 'Altitude (m AMSL)', 1178, 21);
}

// ---- histogram
{
  const x = d3.scaleLinear().domain([-100, 100]).range(rightCol);
  const y = d3.scaleLinear().domain([0, 54.6]).range([row3[1], row3[0]]);
  const g = svg.append('g');
  gridLines(g, histXTicks, histYTicks, x, y);
  const barsAt = (counts, color) => {
    g.append('g').selectAll('rect').data(binStart).enter().append('rect')
      .attr('x', d => x(d)).attr('width', x(5) - x(0))
      .attr('y', (d, i) => y(counts[i])).attr('height', (d, i) => y(0) - y(counts[i]))
      .attr('fill', color).attr('fill-opacity', .65).attr('stroke', '#000').attr('stroke-opacity', .75).attr('stroke-width', 1.1);
  };
  barsAt(uCounts, '#1f77b4');
  barsAt(vCounts, '#ff7f0e');
  axesFrame(x, y, d3.axisBottom(x).tickValues(histXTicks), d3.axisLeft(y).tickValues(histYTicks));
  titleAndLabels(x, y, 'U and V Wind Components', wspeed, 'Frequency', 1160, 827);

  legendBox(1442, 814, 119, 33);
  svg.append('rect').attr('x', 1446).attr('y', 819).attr('width', 22.5).attr('height', 8)
    .attr('fill', '#1f77b4').attr('fill-opacity', .65).attr('stroke', '#000').attr('stroke-opacity', .75);
  svg.append('rect').attr('x', 1446).attr('y', 834).attr('width', 22.5).attr('height', 8)
    .attr('fill', '#ff7f0e').attr('fill-opacity', .65).attr('stroke', '#000').attr('stroke-opacity', .75);
  legendText(1477, 823.5, 'U (zonal)');
  legendText(1477, 838.5, 'V (meridional)');
}
</script>
</body>
</html>
